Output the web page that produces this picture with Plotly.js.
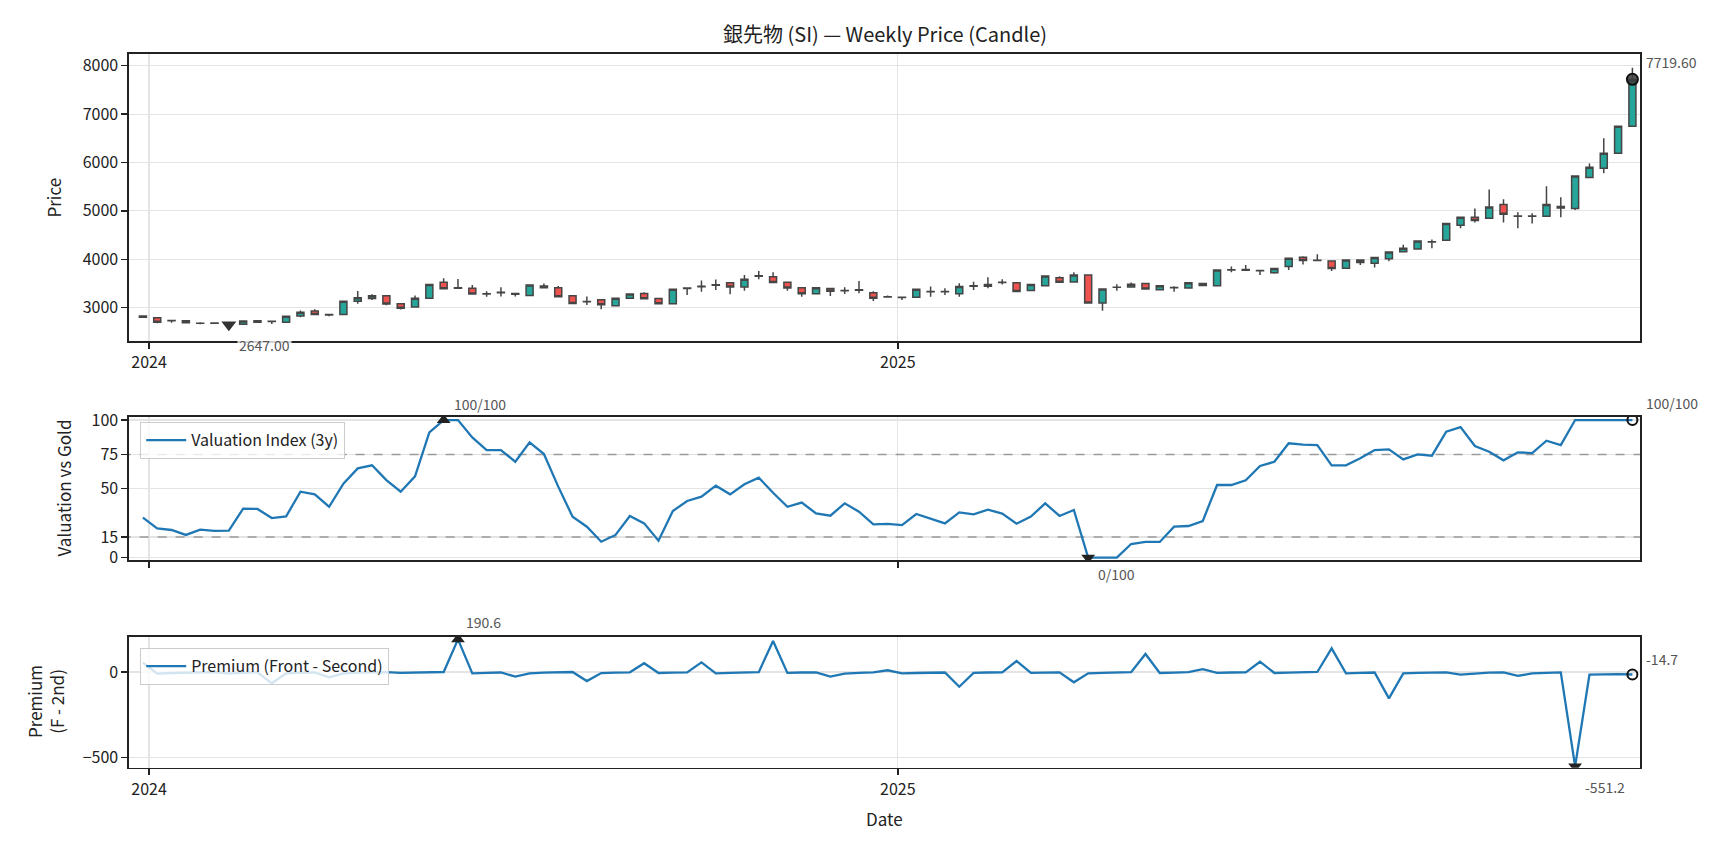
<!DOCTYPE html>
<html>
<head>
<meta charset="utf-8">
<script src="https://cdn.plot.ly/plotly-3.0.1.min.js"></script>
<style>
html,body{margin:0;padding:0;background:#fff;}
#chart{width:1728px;height:849px;}
</style>
</head>
<body>
<div id="chart"></div>
<script>
// ---- data (weekly, first week ending 2023-12-29) ----
const START_DATE = '2023-12-29';
const openP  = [2830,2790,2735,2730,2680,2680,2690,2655,2730,2712,2700,2830,2930,2860,2860,3130,3190,3245,3080,3015,3195,3525,3410,3400,3285,3310,3295,3250,3450,3410,3245,3120,3165,3040,3195,3295,3190,3080,3405,3430,3465,3515,3425,3650,3640,3525,3410,3290,3395,3355,3370,3310,3225,3215,3215,3328,3328,3285,3445,3440,3522,3515,3355,3455,3620,3530,3675,3095,3420,3425,3500,3370,3412,3405,3500,3455,3778,3790,3768,3720,3850,4040,3980,3965,3815,3985,3920,4010,4155,4210,4355,4395,4705,4870,4850,5130,4895,4892,4890,5090,5050,5690,5880,6190,6750];
const highP  = [2845,2800,2738,2735,2700,2690,2700,2735,2735,2725,2830,2940,2965,2865,3135,3346,3275,3250,3085,3250,3490,3608,3590,3470,3340,3420,3300,3475,3500,3450,3250,3230,3170,3210,3290,3320,3195,3385,3410,3559,3580,3520,3677,3760,3732,3530,3415,3415,3400,3420,3552,3340,3250,3220,3385,3435,3400,3504,3538,3628,3587,3520,3490,3660,3650,3732,3680,3385,3483,3520,3505,3460,3440,3520,3510,3785,3850,3884,3775,3815,4025,4060,4105,3970,3990,3990,4040,4155,4298,4380,4410,4745,4880,5050,5441,5240,4970,4950,5510,5280,5725,5980,6500,6755,7960];
const lowP   = [2790,2680,2690,2680,2655,2665,2647,2652,2700,2660,2695,2800,2850,2822,2855,3083,3160,3050,2960,3010,3190,3385,3398,3275,3227,3230,3230,3245,3395,3220,3070,3055,2968,3035,3190,3180,3075,3075,3263,3331,3365,3276,3352,3587,3515,3352,3228,3285,3242,3283,3297,3139,3215,3160,3210,3228,3260,3228,3366,3400,3480,3330,3350,3440,3510,3525,3090,2938,3352,3420,3375,3365,3330,3400,3455,3450,3732,3760,3677,3700,3780,3890,3972,3760,3810,3880,3829,3960,4150,4200,4229,4390,4640,4760,4845,4760,4640,4740,4885,4870,5020,5680,5780,6180,6740];
const closeP = [2800,2700,2730,2690,2678,2685,2680,2725,2700,2718,2820,2905,2860,2850,3130,3205,3245,3075,2990,3195,3480,3390,3400,3280,3280,3318,3275,3470,3410,3225,3085,3125,3060,3195,3280,3185,3080,3380,3395,3440,3472,3425,3585,3660,3520,3405,3290,3410,3340,3350,3358,3195,3220,3212,3380,3335,3334,3435,3452,3480,3527,3335,3480,3655,3525,3675,3095,3385,3424,3485,3385,3455,3418,3515,3460,3780,3782,3775,3764,3810,4020,3975,3975,3810,3985,3935,4035,4150,4230,4375,4362,4740,4870,4800,5080,4930,4890,4888,5130,5060,5720,5900,6190,6750,7719.6];
const valuationIdx = [29.1,21.3,20.1,16.5,20.3,19.4,19.6,35.6,35.4,28.8,30.0,47.9,46.0,37.0,53.8,64.9,67.1,56.4,47.9,59.1,91.0,100,100,87.4,78.2,78.2,69.7,83.8,75.3,51.6,29.8,22.5,11.6,16.5,30.3,24.9,12.3,33.9,41.2,44.3,52.3,46.0,53.3,58.1,47.2,37.0,40.0,32.2,30.5,39.5,33.4,24.2,24.5,23.7,31.7,28.3,24.9,32.9,31.5,34.9,32.0,24.7,29.8,39.5,30.3,34.6,0,0,0,9.9,11.4,11.4,22.5,23.0,26.6,52.8,52.8,56.2,66.6,69.7,83.1,82.1,81.8,67.1,67.1,72.2,78.2,78.7,71.4,75.1,74.1,91.5,94.9,81.1,77.0,70.7,76.5,76.0,85.0,81.8,100,100,100,100,100];
const premium = [55,-10,-6,-4,-2,-1,-8,-4,-2,-66,-8,-4,-2,-31,-8,-4,-2,-1,-5,-3,-1,0,190.6,-8,-5,-3,-27,-8,-4,-2,0,-53,-6,-4,-2,51,-6,-4,-2,56,-8,-5,-3,-1,181,-5,-3,-2,-27,-10,-5,-2,10,-8,-6,-5,-3,-86,-5,-3,-2,64,-5,-4,-2,-60,-8,-5,-3,-1,105,-6,-4,-1,17,-5,-3,-2,60,-6,-4,-2,0,138,-8,-5,-3,-154,-8,-5,-3,-2,-15,-8,-4,-2,-23,-8,-4,-2,-551.2,-15,-14,-12,-14.7];
const bandLines = [15, 75];
const xTickVals = ['2024-01-01','2025-01-01'];
const xTickText = ['2024','2025'];

// weekly dates
const dates = [];
{
  const d0 = new Date(START_DATE + 'T00:00:00Z');
  for (let i = 0; i < closeP.length; i++) {
    const d = new Date(d0.getTime() + i * 7 * 86400000);
    dates.push(d.toISOString().slice(0,10));
  }
}

const FONT = '"Noto Sans CJK JP", "Noto Sans", sans-serif';
const BLUE = '#1f77b4';
const last = closeP.length - 1;
let minIdx = 0; lowP.forEach((v,i)=>{ if (v < lowP[minIdx]) minIdx = i; });
let vMax = 0, vMin = 0;
valuationIdx.forEach((v,i)=>{ if (v > valuationIdx[vMax]) vMax = i; if (v < valuationIdx[vMin]) vMin = i; });
let pMax = 0, pMin = 0;
premium.forEach((v,i)=>{ if (v > premium[pMax]) pMax = i; if (v < premium[pMin]) pMin = i; });

const W = 1728, H = 849;
const px = v => v / W, py = v => 1 - v / H;

const traces = [
  {
    type: 'candlestick', x: dates, open: openP, high: highP, low: lowP, close: closeP,
    xaxis: 'x', yaxis: 'y', showlegend: false, whiskerwidth: 0,
    increasing: {fillcolor: '#26a69a', line: {color: '#454545', width: 1.5}},
    decreasing: {fillcolor: '#ef5350', line: {color: '#454545', width: 1.5}},
    hoverinfo: 'skip'
  },
  {type:'scatter', mode:'markers', x:[dates[minIdx]], y:[lowP[minIdx]], xaxis:'x', yaxis:'y', showlegend:false,
   marker:{symbol:'triangle-down', size:13, color:'#333'}},
  {type:'scatter', mode:'markers', x:[dates[last]], y:[closeP[last]], xaxis:'x', yaxis:'y', showlegend:false,
   marker:{symbol:'circle', size:11, color:'rgba(60,60,60,0.85)', line:{color:'#111', width:2}}},

  // dashed reference bands (drawn as lines through the axis' own scale)
  ...bandLines.map(v => ({type:'scatter', mode:'lines', x:[xTickVals[0].replace('2024-01-01','2023-12-01'), '2026-02-01'], y:[v, v],
    xaxis:'x2', yaxis:'y2', showlegend:false, hoverinfo:'skip', line:{color:'#9a9a9a', width:1.6, dash:'dash'}})),

  {type:'scatter', mode:'lines', x:dates, y:valuationIdx, xaxis:'x2', yaxis:'y2', name:'Valuation Index (3y)',
   line:{color:BLUE, width:2.3}, legend:'legend'},
  {type:'scatter', mode:'markers', x:[dates[vMax]], y:[valuationIdx[vMax]], xaxis:'x2', yaxis:'y2', showlegend:false,
   marker:{symbol:'triangle-up', size:12, color:'#222'}},
  {type:'scatter', mode:'markers', x:[dates[vMin]], y:[valuationIdx[vMin]], xaxis:'x2', yaxis:'y2', showlegend:false,
   marker:{symbol:'triangle-down', size:12, color:'#222'}},
  {type:'scatter', mode:'markers', x:[dates[last]], y:[valuationIdx[last]], xaxis:'x2', yaxis:'y2', showlegend:false,
   marker:{symbol:'circle-open', size:10, color:'#111', line:{width:2}}},

  {type:'scatter', mode:'lines', x:dates, y:premium, xaxis:'x3', yaxis:'y3', name:'Premium (Front - Second)',
   line:{color:BLUE, width:2.3}, legend:'legend2'},
  {type:'scatter', mode:'markers', x:[dates[pMax]], y:[premium[pMax]], xaxis:'x3', yaxis:'y3', showlegend:false,
   marker:{symbol:'triangle-up', size:12, color:'#222'}},
  {type:'scatter', mode:'markers', x:[dates[pMin]], y:[premium[pMin]], xaxis:'x3', yaxis:'y3', showlegend:false,
   marker:{symbol:'triangle-down', size:12, color:'#222'}},
  {type:'scatter', mode:'markers', x:[dates[last]], y:[premium[last]], xaxis:'x3', yaxis:'y3', showlegend:false,
   marker:{symbol:'circle-open', size:10, color:'#111', line:{width:2}}}
];

const xDom = [px(129), px(1640)];
const xRange = ['2023-12-22 05:00', '2025-12-29 17:00'];

function xax(anchor, showLabels) {
  return {
    domain: xDom, anchor: anchor, type: 'date', range: xRange,
    tickmode: 'array', tickvals: xTickVals, ticktext: xTickText, showticklabels: showLabels,
    ticks: 'outside', ticklen: 6, tickwidth: 1.3, tickcolor: '#222',
    showgrid: true, gridcolor: '#e4e4e4', gridwidth: 1.2,
    showline: true, mirror: true, linecolor: '#222', linewidth: 1.6, zeroline: false,
    tickfont: {family: FONT, size: 16, color: '#222'},
    rangeslider: {visible: false}, fixedrange: true
  };
}
function yax(domain, range, tickvals) {
  return {
    domain: domain, range: range, tickmode: 'array', tickvals: tickvals,
    ticks: 'outside', ticklen: 6, tickwidth: 1.3, tickcolor: '#222',
    showgrid: true, gridcolor: '#e4e4e4', gridwidth: 1.2,
    showline: true, mirror: true, linecolor: '#222', linewidth: 1.6, zeroline: false,
    tickfont: {family: FONT, size: 16, color: '#222'}, fixedrange: true
  };
}

const annFont = {family: FONT, size: 14, color: '#555'};
const annotations = [
  {xref:'paper', yref:'paper', x: px(884.5), y: py(34), text:'銀先物 (SI) — Weekly Price (Candle)', showarrow:false,
   font:{family:FONT, size:20, color:'#222'}, xanchor:'center', yanchor:'middle'},
  {xref:'paper', yref:'paper', x: px(53), y: py(197.5), text:'Price', textangle:-90, showarrow:false,
   font:{family:FONT, size:17, color:'#222'}, xanchor:'center', yanchor:'middle'},
  {xref:'paper', yref:'paper', x: px(63), y: py(488.5), text:'Valuation vs Gold', textangle:-90, showarrow:false,
   font:{family:FONT, size:17, color:'#222'}, xanchor:'center', yanchor:'middle'},
  {xref:'paper', yref:'paper', x: px(45), y: py(702), text:'Premium<br>(F - 2nd)', textangle:-90, showarrow:false,
   font:{family:FONT, size:17, color:'#222'}, xanchor:'center', yanchor:'middle'},
  {xref:'paper', yref:'paper', x: px(884.5), y: py(818), text:'Date', showarrow:false,
   font:{family:FONT, size:17, color:'#222'}, xanchor:'center', yanchor:'middle'},

  {xref:'x', yref:'y', x: dates[minIdx], y: lowP[minIdx], text: lowP[minIdx].toFixed(2), showarrow:false,
   xanchor:'left', yanchor:'middle', xshift: 8, yshift: -20, font: annFont, bgcolor:'rgba(255,255,255,0.8)'},
  {xref:'x', yref:'y', x: dates[last], y: closeP[last], text: closeP[last].toFixed(2), showarrow:false,
   xanchor:'left', yanchor:'middle', xshift: 12, yshift: 17, font: annFont, bgcolor:'rgba(255,255,255,0.8)'},

  {xref:'x2', yref:'y2', x: dates[vMax], y: valuationIdx[vMax], text: Math.round(valuationIdx[vMax]) + '/100', showarrow:false,
   xanchor:'left', yanchor:'middle', xshift: 8, yshift: 16, font: annFont},
  {xref:'x2', yref:'y2', x: dates[vMin], y: valuationIdx[vMin], text: Math.round(valuationIdx[vMin]) + '/100', showarrow:false,
   xanchor:'left', yanchor:'middle', xshift: 8, yshift: -16, font: annFont},
  {xref:'x2', yref:'y2', x: dates[last], y: valuationIdx[last], text: Math.round(valuationIdx[last]) + '/100', showarrow:false,
   xanchor:'left', yanchor:'middle', xshift: 12, yshift: 17, font: annFont},

  {xref:'x3', yref:'y3', x: dates[pMax], y: premium[pMax], text: premium[pMax].toFixed(1), showarrow:false,
   xanchor:'left', yanchor:'middle', xshift: 6, yshift: 17, font: annFont},
  {xref:'x3', yref:'y3', x: dates[pMin], y: premium[pMin], text: premium[pMin].toFixed(1), showarrow:false,
   xanchor:'left', yanchor:'middle', xshift: 8, yshift: -21, font: annFont},
  {xref:'x3', yref:'y3', x: dates[last], y: premium[last], text: premium[last].toFixed(1), showarrow:false,
   xanchor:'left', yanchor:'middle', xshift: 12, yshift: 16, font: annFont}
];

const legendStyle = (x, y) => ({
  x: x, y: y, xanchor:'left', yanchor:'top', xref:'paper', yref:'paper',
  bgcolor:'rgba(255,255,255,0.8)', bordercolor:'#cccccc', borderwidth:1.2,
  font:{family:FONT, size:16, color:'#222'}, itemwidth:40
});

const layout = {
  width: W, height: H, margin:{l:0, r:0, t:0, b:0},
  paper_bgcolor:'#fff', plot_bgcolor:'#fff',
  font:{family:FONT, color:'#222'},
  showlegend: true,
  xaxis: xax('y', true),
  xaxis2: xax('y2', false),
  xaxis3: xax('y3', true),
  yaxis: yax([py(341), py(54)], [2311, 8242], [3000,4000,5000,6000,7000,8000]),
  yaxis2: yax([py(560), py(417)], [-1.7, 102.2], [0,15,50,75,100]),
  yaxis3: yax([py(767.7), py(636.7)], [-558.7, 206], [-500, 0]),
  legend: legendStyle(px(140), py(422)),
  legend2: legendStyle(px(140), py(648)),
  annotations: annotations
};

Plotly.newPlot('chart', traces, layout, {staticPlot: true, displayModeBar: false});
</script>
</body>
</html>
